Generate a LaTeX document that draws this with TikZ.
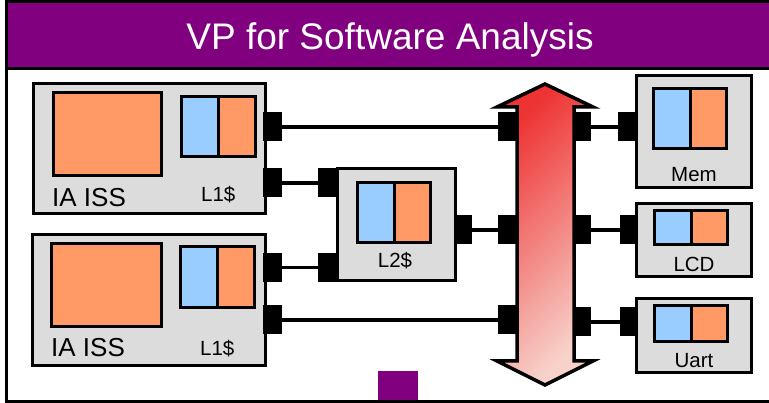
\documentclass[tikz,border=0pt]{standalone}
\usepackage{fontspec}
\setmainfont{Liberation Sans}
\definecolor{vpurple}{HTML}{800080}
\definecolor{boxgray}{HTML}{DCDCDC}
\definecolor{corange}{HTML}{FF9966}
\definecolor{cblue}{HTML}{99CCFF}
\definecolor{busred}{HTML}{EE3333}
\definecolor{buspale}{HTML}{F7D2CA}

\begin{document}
\begin{tikzpicture}[x=1pt,y=-1pt,
  unitbox/.style={rectangle, draw=black, line width=3pt, fill=boxgray, inner sep=0pt},
  corebox/.style={rectangle, draw=black, line width=3pt, fill=corange, inner sep=0pt},
  cachebox/.style={rectangle, draw=black, line width=3pt, inner sep=0pt,
    path picture={
      \fill[cblue] (path picture bounding box.south west) rectangle (path picture bounding box.north);
      \fill[corange] (path picture bounding box.south) rectangle (path picture bounding box.north east);
      \draw[line width=3pt] (path picture bounding box.south) -- (path picture bounding box.north);
    }},
  port/.style={rectangle, fill=black, minimum width=19pt, minimum height=29pt, inner sep=0pt},
  wire/.style={draw=black, line width=3.5pt},
  lbl/.style={font=\fontsize{20.5}{22}\selectfont, inner sep=0pt},
  biglbl/.style={font=\fontsize{26}{29}\selectfont, inner sep=0pt}
]
\useasboundingbox (0,0) rectangle (769,403);

% title bar and frame
\fill[vpurple] (6.5,1.5) rectangle (790,68.5);
\draw[line width=3pt] (790,68.5) -- (6.5,68.5);
\draw[line width=3pt] (790,1.5) -- (6.5,1.5) -- (6.5,401.5) -- (790,401.5);
\node[text=white, font=\fontsize{37}{40}\selectfont, inner sep=0pt, anchor=base] (title) at (390,50) {VP for Software Analysis};

% small purple tab at the bottom
\fill[vpurple] (378,371) rectangle (418,400);

% system bus
\draw[line width=3.5pt, top color=busred, bottom color=buspale, shading angle=45]
  (545,84) -- (593,107) -- (574,107) -- (574,361) -- (593,361) -- (545,385)
  -- (497,361) -- (517,361) -- (517,107) -- (497,107) -- cycle;

% first processor
\node[unitbox, minimum width=232pt, minimum height=130pt] (iss1) at (149.5,148.5) {};
\node[corebox, minimum width=108pt, minimum height=83pt] (core1) at (107.5,134) {};
\node[cachebox, minimum width=74pt, minimum height=60pt] (l1a) at (218.5,126.5) {};
\node[biglbl, anchor=base west] (iss1name) at (52,207) {IA ISS};
\node[lbl, anchor=base west] (l1aname) at (201,202) {L1\$};
\node[port] (p1a) at (272.5,127) {};
\node[port] (p1b) at (272.5,183) {};

% second processor
\node[unitbox, minimum width=233pt, minimum height=131pt] (iss2) at (149,300) {};
\node[corebox, minimum width=110pt, minimum height=83pt] (core2) at (106.5,285) {};
\node[cachebox, minimum width=74pt, minimum height=61pt] (l1b) at (217.5,277) {};
\node[biglbl, anchor=base west] (iss2name) at (51,357) {IA ISS};
\node[lbl, anchor=base west] (l1bname) at (200,356) {L1\$};
\node[port] (p2a) at (272.5,267.5) {};
\node[port] (p2b) at (272.5,320) {};

% shared L2 cache
\node[unitbox, minimum width=118pt, minimum height=112pt] (l2) at (396,224.5) {};
\node[cachebox, minimum width=73pt, minimum height=60pt] (l2c) at (394,212.5) {};
\node[lbl, anchor=base] (l2name) at (395,268) {L2\$};
\node[port] (l2in1) at (327.5,183) {};
\node[port] (l2in2) at (327.5,267.5) {};
\node[port, minimum width=17pt] (l2out) at (463.5,230) {};

% peripherals
\node[unitbox, minimum width=115pt, minimum height=112pt] (mem) at (694,131.5) {};
\node[cachebox, minimum width=73pt, minimum height=60pt] (memc) at (690,118.5) {};
\node[lbl, anchor=base] (memname) at (694,182) {Mem};
\node[port] (memp) at (627.5,127) {};

\node[unitbox, minimum width=115pt, minimum height=73pt] (lcd) at (694,240) {};
\node[cachebox, minimum width=73pt, minimum height=34pt] (lcdc) at (691,227.5) {};
\node[lbl, anchor=base] (lcdname) at (694,272) {LCD};
\node[port, minimum width=17pt] (lcdp) at (628.5,230) {};

\node[unitbox, minimum width=115pt, minimum height=74pt] (uart) at (694,335.5) {};
\node[cachebox, minimum width=73pt, minimum height=36pt] (uartc) at (691,323.5) {};
\node[lbl, anchor=base] (uartname) at (694,368) {Uart};
\node[port, minimum width=17pt] (uartp) at (628.5,322) {};

% bus ports
\node[port] (bl1) at (507.5,127) {};
\node[port] (bl2) at (507.5,230) {};
\node[port] (bl3) at (507.5,320) {};
\node[port, minimum width=16pt] (br1) at (583,127) {};
\node[port, minimum width=16pt] (br2) at (583,230) {};
\node[port, minimum width=16pt] (br3) at (583,322) {};

% connections
\draw[wire] (p1a.east) -- (bl1.west);
\draw[wire] (p1b.east) -- (l2in1.west);
\draw[wire] (p2a.east) -- (l2in2.west);
\draw[wire] (p2b.east) -- (bl3.west);
\draw[wire] (l2out.east) -- (bl2.west);
\draw[wire] (br1.east) -- (memp.west);
\draw[wire] (br2.east) -- (lcdp.west);
\draw[wire] (br3.east) -- (uartp.west);
\end{tikzpicture}
\end{document}
